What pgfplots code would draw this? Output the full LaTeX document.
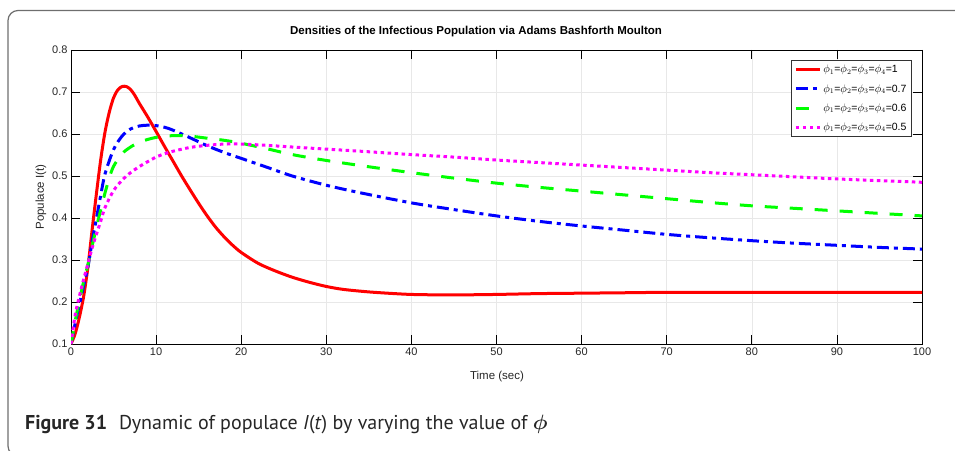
\documentclass[border=0pt]{standalone}
\usepackage{amsmath}
\usepackage{fontspec}
\setmainfont{Liberation Sans}
\newfontfamily\capfont{PT Sans}
\usepackage{pgfplots}
\pgfplotsset{compat=1.18}

\definecolor{tickgray}{HTML}{262626}
\definecolor{framegray}{HTML}{6E6E6E}
\definecolor{mred}{HTML}{FF0000}
\definecolor{mblue}{HTML}{0000FF}
\definecolor{mgreen}{HTML}{00FF00}
\definecolor{mmag}{HTML}{FF00FF}

\begin{document}
\begin{tikzpicture}[x=1pt,y=1pt]
\path[use as bounding box] (0,0) rectangle (955,450);
\draw[framegray, line width=1.2pt, rounded corners=10pt] (8,439.5) rectangle (975,-6);

\begin{axis}[
    at={(71pt,106pt)}, anchor=south west,
    width=851pt, height=294pt, scale only axis,
    xmin=0, xmax=100, ymin=0.1, ymax=0.8,
    xtick={0,10,...,100},
    ytick={0.1,0.2,0.3,0.4,0.5,0.6,0.7,0.8},
    yticklabel style={/pgf/number format/.cd, fixed, fixed zerofill, precision=1},
    /pgf/number format/assume math mode=true,
    tick align=inside, tick pos=both,
    xticklabel pos=bottom, yticklabel pos=left,
    major tick length=9pt,
    tick style={black, line width=0.8pt},
    axis line style={black, line width=0.8pt},
    grid=major, grid style={gray!18, line width=0.6pt},
    ticklabel style={font=\fontsize{11}{12}\selectfont, color=tickgray},
    title={Densities of the Infectious Population via Adams Bashforth Moulton},
    title style={font=\fontsize{11.5}{13}\selectfont\bfseries,
        at={(axis description cs:0.476,1.044)}, anchor=center},
    xlabel={Time (sec)},
    xlabel style={font=\fontsize{11.5}{13}\selectfont, color=tickgray,
        at={(axis description cs:0.5006,-0.109)}, anchor=center},
    ylabel={Populace I(t)},
    ylabel style={font=\fontsize{11.5}{13}\selectfont, color=tickgray,
        at={(axis description cs:-0.0353,0.5)}, anchor=center},
    legend style={at={(axis description cs:0.988,0.966)}, anchor=north east,
        draw=gray!40!black, line width=0.6pt, fill=white,
        font=\fontsize{10.5}{12}\selectfont, row sep=6pt, inner sep=3pt},
    legend cell align=left,
    legend image code/.code={\draw[#1] (0pt,0pt) -- (24pt,0pt);},
]
% phi = 1
\addplot[mred, line width=3pt, smooth] coordinates {
 (0,0.10) (0.5,0.125) (1,0.165) (1.5,0.215) (2,0.285) (2.5,0.375) (3,0.46)
 (3.5,0.54) (4,0.605) (4.5,0.652) (5,0.686) (5.5,0.705) (6,0.713) (6.5,0.713)
 (7,0.706) (7.5,0.692) (8,0.674) (9,0.641) (10,0.606) (11,0.57) (12,0.535)
 (13,0.5) (14,0.467) (15,0.435) (16,0.405) (17,0.378) (18,0.355) (19,0.335)
 (20,0.318) (22,0.292) (24,0.274) (26,0.259) (28,0.247) (30,0.237) (32,0.23)
 (35,0.224) (38,0.22) (40,0.218) (43,0.217) (46,0.217) (50,0.218) (55,0.22)
 (60,0.221) (65,0.222) (70,0.223) (80,0.223) (90,0.223) (100,0.223)
};
% phi = 0.7
\addplot[mblue, line width=3pt, smooth, dash pattern=on 12pt off 5pt on 4pt off 5pt] coordinates {
 (0,0.10) (0.5,0.15) (1,0.195) (1.5,0.24) (2,0.285) (2.5,0.345) (3,0.40)
 (3.5,0.455) (4,0.505) (5,0.563) (6,0.595) (7,0.612) (8,0.619) (9,0.621)
 (10,0.62) (11,0.616) (12,0.609) (14,0.591) (16,0.572) (18,0.556) (20,0.542)
 (23,0.521) (26,0.50) (30,0.478) (34,0.46) (40,0.436) (45,0.42) (50,0.405)
 (55,0.392) (60,0.381) (65,0.371) (70,0.361) (75,0.353) (80,0.346) (85,0.34)
 (90,0.335) (95,0.33) (100,0.326)
};
% phi = 0.6
\addplot[mgreen, line width=3pt, smooth, dash pattern=on 13pt off 12pt] coordinates {
 (0,0.10) (0.5,0.155) (1,0.205) (1.5,0.25) (2,0.29) (2.5,0.335) (3,0.379)
 (3.5,0.42) (4,0.46) (4.5,0.495) (5,0.523) (6,0.553) (7,0.569) (8,0.58)
 (9,0.587) (10,0.592) (11,0.595) (12,0.596) (13,0.596) (14,0.595) (16,0.59)
 (18,0.585) (20,0.578) (23,0.565) (26,0.551) (30,0.537) (35,0.522) (40,0.508)
 (45,0.495) (50,0.483) (55,0.473) (60,0.464) (65,0.455) (70,0.446) (75,0.437)
 (80,0.429) (85,0.423) (90,0.417) (95,0.411) (100,0.405)
};
% phi = 0.5
\addplot[mmag, line width=3pt, smooth, dash pattern=on 3.5pt off 3.5pt] coordinates {
 (0,0.10) (0.5,0.17) (1,0.215) (1.5,0.255) (2,0.292) (2.5,0.33) (3,0.362)
 (3.5,0.393) (4,0.425) (5,0.465) (6,0.49) (7,0.508) (8,0.522) (9,0.534)
 (10,0.545) (11,0.553) (12,0.559) (14,0.568) (16,0.573) (18,0.576) (20,0.576)
 (23,0.573) (26,0.569) (30,0.564) (34,0.559) (40,0.551) (45,0.545) (50,0.538)
 (55,0.532) (60,0.526) (65,0.52) (70,0.514) (75,0.508) (80,0.503) (85,0.498)
 (90,0.493) (95,0.489) (100,0.485)
};
\legend{
 \(\phi_1\)=\(\phi_2\)=\(\phi_3\)=\(\phi_4\)=1,
 \(\phi_1\)=\(\phi_2\)=\(\phi_3\)=\(\phi_4\)=0.7,
 \(\phi_1\)=\(\phi_2\)=\(\phi_3\)=\(\phi_4\)=0.6,
 \(\phi_1\)=\(\phi_2\)=\(\phi_3\)=\(\phi_4\)=0.5}
\end{axis}

\node[anchor=base west, inner sep=0pt, text=black!85] at (25,21)
 {\capfont\fontsize{20}{23}\selectfont\textbf{Figure 31}\hspace{0.6em}Dynamic of populace \textit{I}(\textit{t}) by varying the value of \(\boldsymbol{\phi}\)};
\end{tikzpicture}
\end{document}
